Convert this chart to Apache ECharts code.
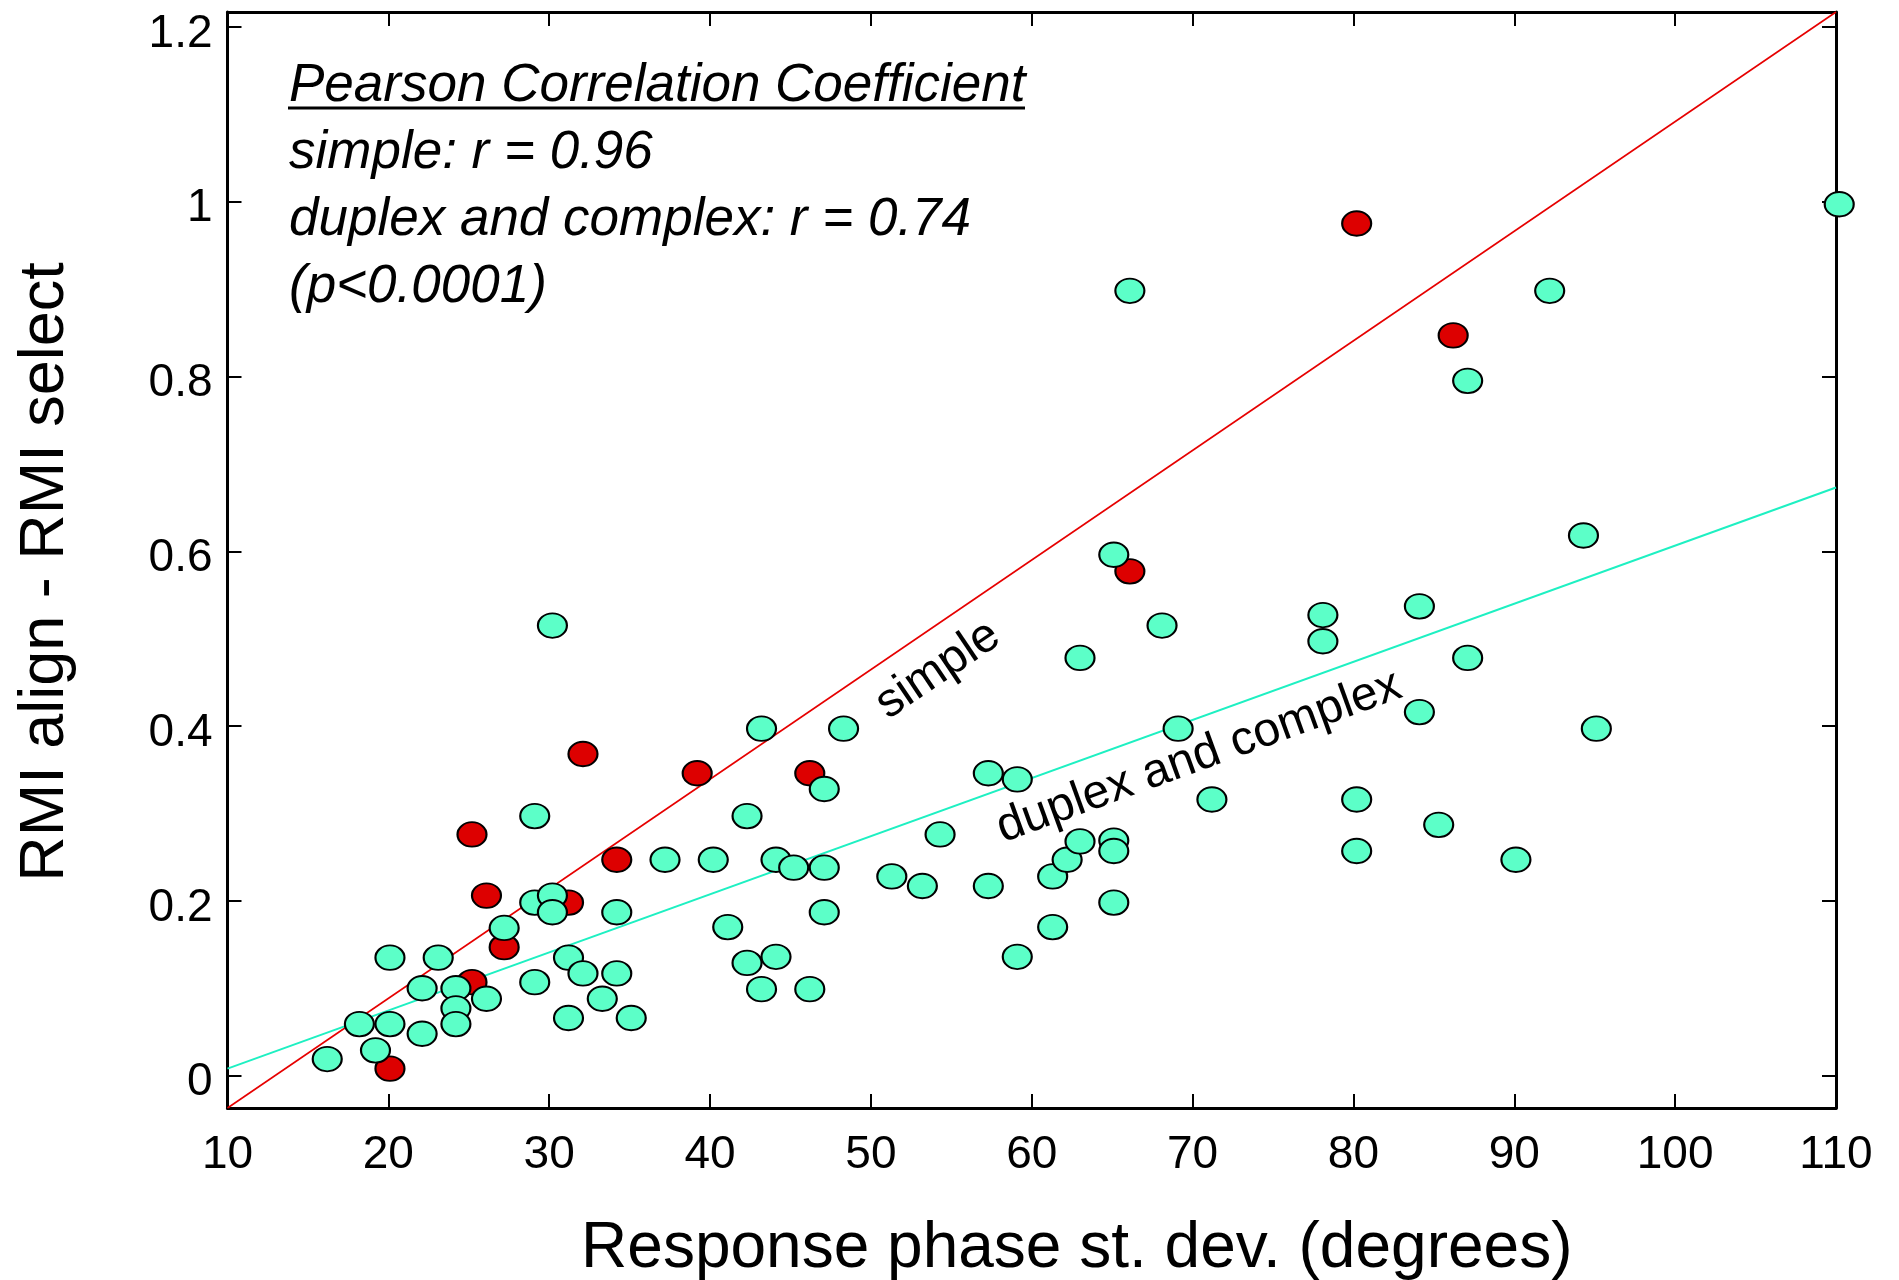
<!DOCTYPE html>
<html>
<head>
<meta charset="utf-8">
<script src="https://cdn.jsdelivr.net/npm/echarts@6/dist/echarts.min.js"></script>
<style>
html,body{margin:0;padding:0;background:#ffffff;}
#chart{width:1899px;height:1280px;}
</style>
</head>
<body>
<div id="chart"></div>
<script>
// ---- data ----
const simpleX = [20.1, 25.2, 27.2, 26.1, 25.2, 31.2, 34.2, 32.1, 39.2, 46.2, 66.1, 80.2, 86.2];
const simpleY = [0.008, 0.107, 0.147, 0.206, 0.276, 0.198, 0.247, 0.368, 0.346, 0.346, 0.577, 0.975, 0.847];

const complexX = [16.2, 18.2, 19.2, 20.1, 20.1, 22.1, 22.1, 23.1, 24.2, 24.2, 24.2, 26.1, 27.2, 29.1, 29.1, 29.1,
  30.2, 30.2, 30.2, 31.2, 31.2, 32.1, 33.3, 34.2, 34.2, 35.1, 37.2, 40.2, 41.1, 42.3, 42.3, 43.2, 43.2, 44.1, 44.1,
  45.2, 46.2, 47.1, 47.1, 47.1, 48.3, 51.3, 53.2, 54.3, 57.3, 57.3, 59.1, 59.1, 61.3, 61.3, 62.2, 63.0, 63.0,
  65.1, 65.1, 65.1, 65.1, 66.1, 68.1, 69.1, 71.2, 78.1, 78.1, 80.2, 80.2, 84.1, 84.1, 85.3, 87.1, 87.1, 90.1,
  92.2, 94.3, 95.1, 110.2];
const complexY = [0.019, 0.059, 0.029, 0.135, 0.059, 0.1, 0.048, 0.135, 0.1, 0.077, 0.059, 0.088, 0.169, 0.107, 0.297, 0.198,
  0.515, 0.206, 0.187, 0.135, 0.066, 0.117, 0.088, 0.187, 0.117, 0.066, 0.247, 0.247, 0.17, 0.297, 0.129, 0.099, 0.397, 0.247, 0.136,
  0.238, 0.099, 0.328, 0.238, 0.187, 0.397, 0.228, 0.217, 0.276, 0.346, 0.217, 0.339, 0.136, 0.17, 0.228, 0.247, 0.268, 0.478,
  0.269, 0.257, 0.198, 0.596, 0.898, 0.515, 0.397, 0.316, 0.527, 0.497, 0.316, 0.257, 0.537, 0.416, 0.287, 0.795, 0.478, 0.247,
  0.898, 0.618, 0.397, 0.997];

// regression lines (end points)
const simpleFitX = [10, 110];
const simpleFitY = [-0.037, 1.217];
const complexFitX = [10, 110];
const complexFitY = [0.008, 0.673];

const xTicks = [10, 20, 30, 40, 50, 60, 70, 80, 90, 100, 110];
const yTicks = [0, 0.2, 0.4, 0.6, 0.8, 1, 1.2];

const xTitle = 'Response phase st. dev. (degrees)';
const yTitle = 'RMI align - RMI select';
const noteLines = ['Pearson Correlation Coefficient', 'simple: r = 0.96', 'duplex and complex: r = 0.74', '(p<0.0001)'];
const lineLabels = ['simple', 'duplex and complex'];

// ---- build ----
const zip = (a, b) => a.map((v, i) => [v, b[i]]);
const FONT = '"Liberation Sans", Arial, sans-serif';

const axisLineStyle = { color: '#000', width: 3 };
const tickStyle = { color: '#000', width: 2 };

const chart = echarts.init(document.getElementById('chart'), null, { renderer: 'canvas' });

const noteFont = 'italic 53px ' + FONT;
const noteBaselines = [103, 170, 237, 304];

const graphics = noteLines.map((t, i) => ({
  type: 'text',
  x: 289,
  y: noteBaselines[i] - 16.4,
  silent: true,
  style: { text: t, font: noteFont, fill: '#000', align: 'left', verticalAlign: 'middle', textAlign: 'left', textVerticalAlign: 'middle' }
}));
graphics.push({
  type: 'line', silent: true,
  shape: { x1: 288, y1: 108, x2: 1025, y2: 108 },
  style: { stroke: '#000', lineWidth: 3 }
});
graphics.push({
  type: 'text', silent: true, x: 938, y: 670, rotation: 34 * Math.PI / 180,
  style: { text: lineLabels[0], font: '48px ' + FONT, fill: '#000', align: 'center', verticalAlign: 'middle', textAlign: 'center', textVerticalAlign: 'middle' }
});
graphics.push({
  type: 'text', silent: true, x: 1199, y: 757, rotation: 20 * Math.PI / 180,
  style: { text: lineLabels[1], font: '48px ' + FONT, fill: '#000', align: 'center', verticalAlign: 'middle', textAlign: 'center', textVerticalAlign: 'middle' }
});

const option = {
  backgroundColor: '#ffffff',
  animation: false,
  grid: { left: 227.5, top: 12, width: 1608.5, height: 1096, containLabel: false, outerBoundsMode: 'none' },
  xAxis: [
    {
      type: 'value', position: 'bottom', min: 10, max: 110, interval: 10,
      axisLine: { onZero: false, lineStyle: axisLineStyle },
      axisTick: { inside: true, length: 14, lineStyle: tickStyle },
      axisLabel: { fontSize: 46, color: '#000', fontFamily: FONT, margin: 24 },
      splitLine: { show: false },
      name: xTitle, nameLocation: 'middle', nameGap: 109,
      nameTextStyle: { fontSize: 64, color: '#000', fontFamily: FONT, padding: [0, 0, 0, 90] }
    },
    {
      type: 'value', position: 'top', min: 10, max: 110, interval: 10,
      axisLine: { onZero: false, lineStyle: axisLineStyle },
      axisTick: { inside: true, length: 14, lineStyle: tickStyle },
      axisLabel: { show: false },
      splitLine: { show: false }
    }
  ],
  yAxis: [
    {
      type: 'value', position: 'left', min: -0.037, max: 1.217,
      axisLine: { onZero: false, lineStyle: axisLineStyle },
      axisTick: { inside: true, length: 14, lineStyle: tickStyle, customValues: yTicks },
      axisLabel: { fontSize: 46, color: '#000', fontFamily: FONT, margin: 15, customValues: yTicks, verticalAlign: 'top', lineHeight: 14 },
      splitLine: { show: false },
      name: yTitle, nameLocation: 'middle', nameGap: 150, nameRotate: 90,
      nameTextStyle: { fontSize: 63, color: '#000', fontFamily: FONT, padding: [0, 24, 0, 0] }
    },
    {
      type: 'value', position: 'right', min: -0.037, max: 1.217,
      axisLine: { onZero: false, lineStyle: axisLineStyle },
      axisTick: { inside: true, length: 14, lineStyle: tickStyle, customValues: yTicks },
      axisLabel: { show: false },
      splitLine: { show: false }
    }
  ],
  series: [
    {
      name: 'simple fit', type: 'line', xAxisIndex: 0, yAxisIndex: 0,
      data: zip(simpleFitX, simpleFitY), symbol: 'none', silent: true, z: 1,
      lineStyle: { color: '#E60000', width: 1.6 }
    },
    {
      name: 'duplex and complex fit', type: 'line', xAxisIndex: 0, yAxisIndex: 0,
      data: zip(complexFitX, complexFitY), symbol: 'none', silent: true, z: 1,
      lineStyle: { color: '#1EF0C2', width: 2 }
    },
    {
      name: 'simple', type: 'scatter', xAxisIndex: 0, yAxisIndex: 0, clip: false, z: 3,
      data: zip(simpleX, simpleY), symbol: 'circle', symbolSize: [29, 24.5],
      itemStyle: { color: '#DD0000', borderColor: '#000', borderWidth: 2, opacity: 1 }
    },
    {
      name: 'duplex and complex', type: 'scatter', xAxisIndex: 0, yAxisIndex: 0, clip: false, z: 4,
      data: zip(complexX, complexY), symbol: 'circle', symbolSize: [29, 24.5],
      itemStyle: { color: '#5CFFC8', borderColor: '#000', borderWidth: 2, opacity: 1 }
    }
  ],
  graphic: graphics
};

chart.setOption(option);
</script>
</body>
</html>
